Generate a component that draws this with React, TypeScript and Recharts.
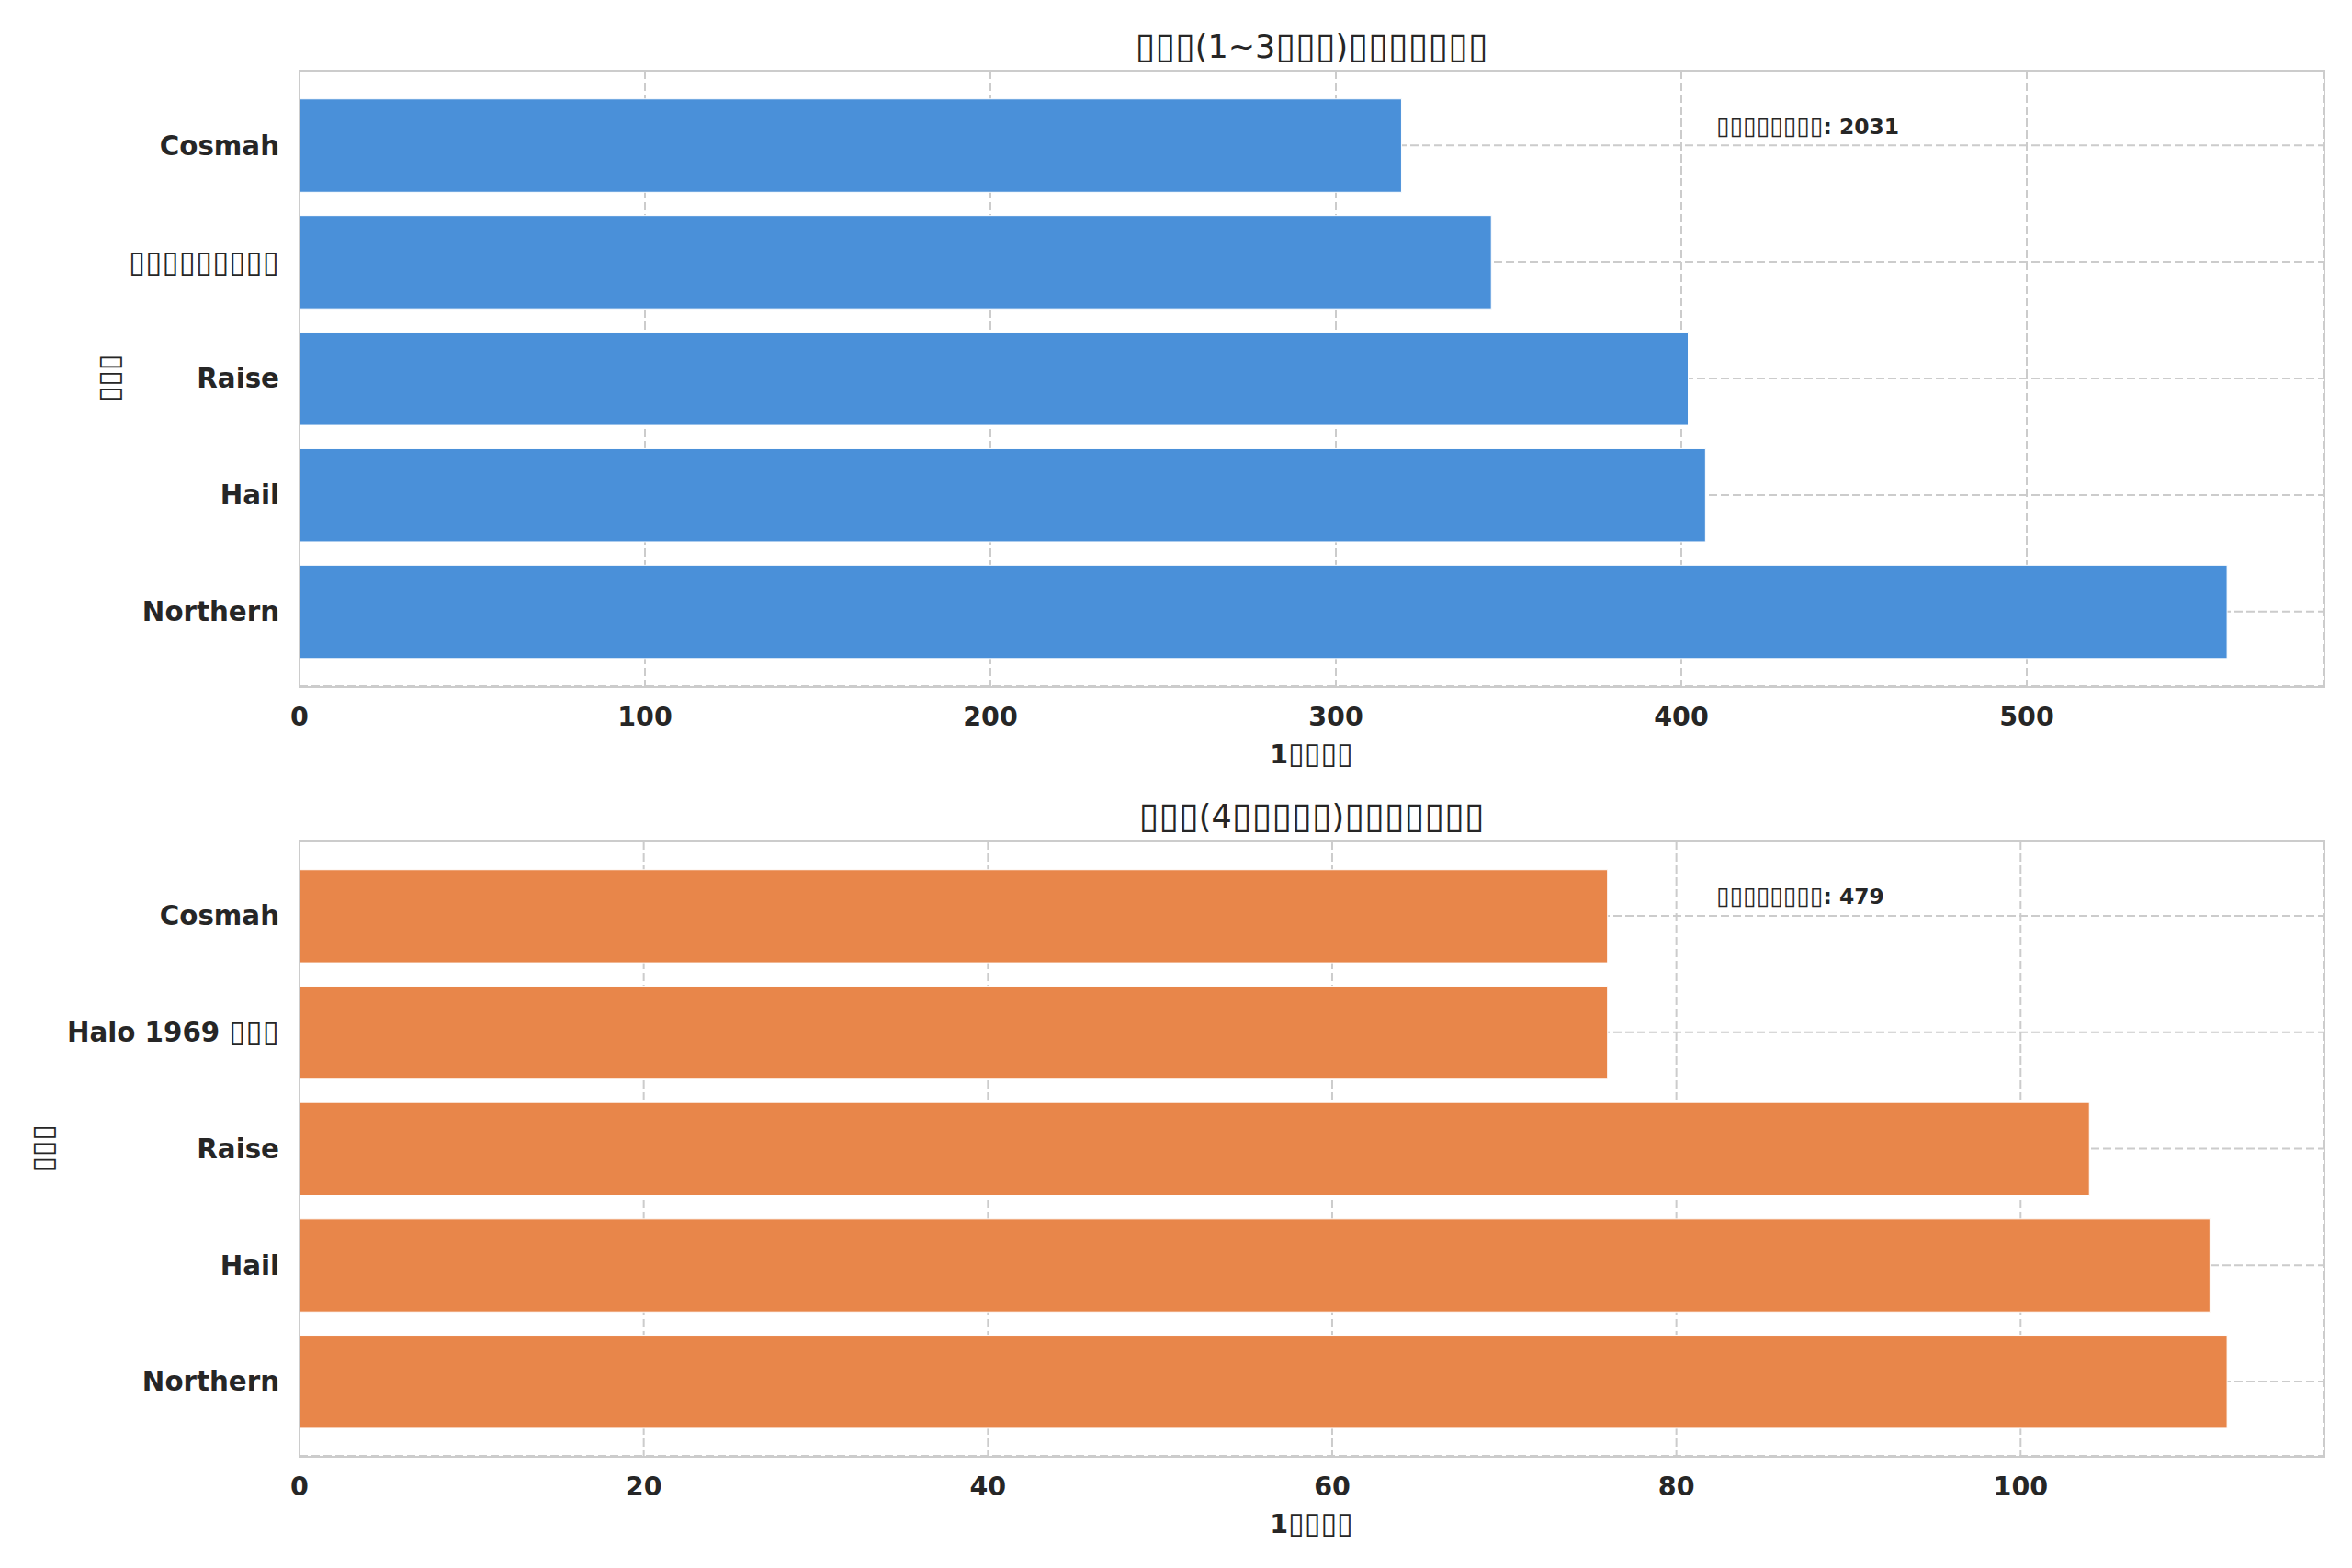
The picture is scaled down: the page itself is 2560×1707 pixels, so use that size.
import { BarChart, Bar, XAxis, YAxis, CartesianGrid } from "recharts";

// unreadable glyphs in the reference are shown as boxes
const B = "\u25AF";
const box = (n: number) => B.repeat(n);

const topBrands = ["Cosmah", box(9), "Raise", "Hail", "Northern"];
const topCounts = [319, 345, 402, 407, 558];
const topTicks = [0, 100, 200, 300, 400, 500];

const bottomBrands = ["Cosmah", "Halo 1969 " + box(3), "Raise", "Hail", "Northern"];
const bottomCounts = [76, 76, 104, 111, 112];
const bottomTicks = [0, 20, 40, 60, 80, 100];

const topTitle = box(3) + "(1~3" + box(3) + ")" + box(7);
const bottomTitle = box(3) + "(4" + box(5) + ")" + box(7);
const xLabel = "1" + box(4);
const yLabel = box(3);
const totalLabel = box(8) + ": ";

const W = 2560;
const PLOT_LEFT = 326;
const PLOT_RIGHT = 2529;
const TEXT = "#262626";
const GRID = "#cccccc";
const BOX_SCALE = "1.13em";

// split text into runs of boxes and other characters
function runs(s: string) {
  const out: { box: boolean; t: string }[] = [];
  for (const ch of s) {
    const isBox = ch === B;
    const last = out[out.length - 1];
    if (last && last.box === isBox) last.t += ch;
    else out.push({ box: isBox, t: ch });
  }
  return out;
}

const svgRuns = (s: string) =>
  runs(s).map((r, i) =>
    r.box ? (
      <tspan key={i} fontSize={BOX_SCALE} fontWeight="normal">
        {r.t}
      </tspan>
    ) : (
      <tspan key={i}>{r.t}</tspan>
    )
  );

const htmlRuns = (s: string) =>
  runs(s).map((r, i) =>
    r.box ? (
      <span key={i} style={{ fontSize: BOX_SCALE, fontWeight: "normal" }}>
        {r.t}
      </span>
    ) : (
      <span key={i}>{r.t}</span>
    )
  );

const CategoryTick = (props: any) => {
  const { x, y, payload } = props;
  return (
    <text
      x={x}
      y={y}
      dy="0.355em"
      textAnchor="end"
      fill={TEXT}
      fontSize={29.3}
      fontWeight="bold"
    >
      {svgRuns(String(payload.value))}
    </text>
  );
};

type PanelProps = {
  brands: string[];
  counts: number[];
  ticks: number[];
  color: string;
  title: string;
  top: number;
  height: number;
  marginTop: number;
  plotHeight: number;
  titleY: number;
  noteY: number;
  yLabelX: number;
};

function Panel(p: PanelProps) {
  const data = p.brands.map((brand, i) => ({ brand, count: p.counts[i] }));
  const maxV = Math.max(...p.counts) * 1.05;
  const total = p.counts.reduce((a, b) => a + b, 0);
  const plotW = PLOT_RIGHT - PLOT_LEFT;
  const xAxisH = 60;
  const bottom = p.height - p.marginTop - p.plotHeight - xAxisH;
  const unit = p.plotHeight / 5.28;
  const pad = (p.plotHeight - 5 * unit) / 2;

  const yLabelContent = (props: any) => {
    const vb = props.viewBox;
    const cy = vb.y + vb.height / 2;
    return (
      <text
        x={p.yLabelX}
        y={cy}
        transform={`rotate(-90 ${p.yLabelX} ${cy})`}
        textAnchor="middle"
        dy="0.355em"
        fill={TEXT}
        fontSize={28}
        fontWeight="bold"
      >
        {svgRuns(yLabel)}
      </text>
    );
  };

  const xLabelContent = (props: any) => {
    const vb = props.viewBox;
    return (
      <text
        x={vb.x + vb.width / 2}
        y={vb.y + vb.height + 3}
        dy="0.72em"
        textAnchor="middle"
        fill={TEXT}
        fontSize={28.5}
        fontWeight="bold"
      >
        {svgRuns(xLabel)}
      </text>
    );
  };

  return (
    <div style={{ position: "absolute", left: 0, top: p.top, width: W, height: p.height }}>
      <div
        style={{
          position: "absolute",
          left: PLOT_LEFT,
          width: plotW,
          top: p.titleY - 22,
          lineHeight: "44px",
          textAlign: "center",
          fontSize: 35,
          color: TEXT,
          whiteSpace: "nowrap",
        }}
      >
        {htmlRuns(p.title)}
      </div>

      <BarChart
        width={W}
        height={p.height}
        data={data}
        layout="vertical"
        margin={{ top: p.marginTop, right: W - PLOT_RIGHT, left: 0, bottom }}
      >
        <CartesianGrid strokeDasharray="9 4" stroke={GRID} strokeWidth={2} />
        <XAxis
          type="number"
          domain={[0, maxV]}
          ticks={p.ticks}
          allowDataOverflow
          height={xAxisH}
          tickSize={0}
          tickMargin={23}
          axisLine={false}
          tickLine={false}
          tick={{ fill: TEXT, fontSize: 28.5, fontWeight: "bold" }}
          label={{ content: xLabelContent }}
        />
        <YAxis
          type="category"
          dataKey="brand"
          width={PLOT_LEFT}
          interval={0}
          tickSize={0}
          tickMargin={22}
          axisLine={false}
          tickLine={false}
          padding={{ top: pad, bottom: pad }}
          tick={<CategoryTick />}
          label={{ content: yLabelContent }}
        />
        <Bar
          dataKey="count"
          fill={p.color}
          barSize={unit * 0.8}
          stroke="#ffffff"
          strokeWidth={1}
          isAnimationActive={false}
        />
      </BarChart>

      {/* axes frame */}
      <div
        style={{
          position: "absolute",
          left: PLOT_LEFT - 1.5,
          top: p.marginTop - 1.5,
          width: plotW + 3,
          height: p.plotHeight + 3,
          border: `2.5px solid ${GRID}`,
          boxSizing: "border-box",
          pointerEvents: "none",
        }}
      />

      <div
        style={{
          position: "absolute",
          left: 1868,
          top: p.noteY - 15,
          lineHeight: "30px",
          fontSize: 23.4,
          fontWeight: "bold",
          color: TEXT,
          whiteSpace: "nowrap",
        }}
      >
        {htmlRuns(totalLabel + total)}
      </div>
    </div>
  );
}

export default function App() {
  return (
    <div
      style={{
        position: "absolute",
        left: 0,
        top: 0,
        width: W,
        height: 1707,
        background: "#ffffff",
        fontFamily: "'DejaVu Sans', sans-serif",
      }}
    >
      <Panel
        brands={topBrands}
        counts={topCounts}
        ticks={topTicks}
        color="#4A90D9"
        title={topTitle}
        top={0}
        height={853}
        marginTop={77}
        plotHeight={670}
        titleY={49}
        noteY={137}
        yLabelX={119}
      />
      <Panel
        brands={bottomBrands}
        counts={bottomCounts}
        ticks={bottomTicks}
        color="#E8864A"
        title={bottomTitle}
        top={853}
        height={854}
        marginTop={63}
        plotHeight={669}
        titleY={34}
        noteY={122}
        yLabelX={47}
      />
    </div>
  );
}
